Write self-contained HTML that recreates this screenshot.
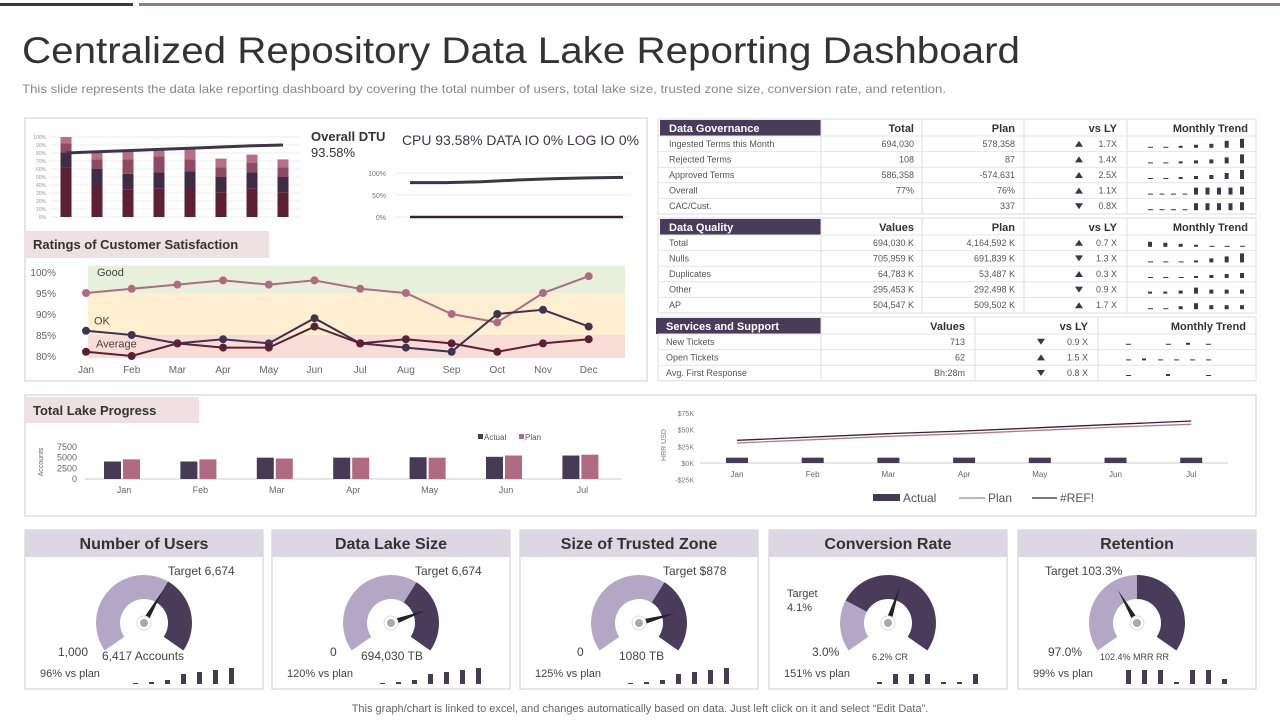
<!DOCTYPE html>
<html><head><meta charset="utf-8"><style>
html,body{margin:0;padding:0;background:#fff;}
svg{display:block;font-family:"Liberation Sans",sans-serif;}
</style></head><body>
<svg id="s" width="1280" height="720" viewBox="0 0 1280 720" xmlns="http://www.w3.org/2000/svg">
<rect x="0" y="3" width="133" height="3" fill="#3d3548"/>
<rect x="139" y="3" width="1141" height="3" fill="#a07488"/>
<text x="22" y="63" font-size="37" fill="#333" textLength="998" lengthAdjust="spacingAndGlyphs">Centralized Repository Data Lake Reporting Dashboard</text>
<text x="22" y="93" font-size="12" fill="#888" textLength="924" lengthAdjust="spacingAndGlyphs">This slide represents the data lake reporting dashboard  by covering  the total number of users, total lake size, trusted zone size, conversion  rate, and retention.</text>
<rect x="25" y="118" width="622" height="263" fill="none" stroke="#ccc"/>
<text x="311" y="141" font-size="13" font-weight="bold" fill="#333">Overall DTU</text>
<text x="311" y="157" font-size="13" fill="#333">93.58%</text>
<text x="402" y="145" font-size="14" fill="#3d3548" textLength="237" lengthAdjust="spacingAndGlyphs">CPU 93.58%  DATA IO 0%  LOG IO 0%</text>
<rect x="25" y="231" width="244" height="27" fill="#efe0e4"/>
<text x="33" y="249" font-size="13" font-weight="bold" fill="#333">Ratings of Customer  Satisfaction</text>
<rect x="25" y="395" width="1231" height="121" fill="none" stroke="#ccc"/>
<rect x="25" y="397" width="174" height="26" fill="#efe0e4"/>
<text x="33" y="415" font-size="13" font-weight="bold" fill="#333">Total Lake Progress</text>
<text x="640" y="712" font-size="11" fill="#666" text-anchor="middle">This graph/chart is linked to excel, and changes automatically based on data. Just left click on it and select “Edit Data”.</text>
</svg>
<script>
// ---- data ----
const stackBottom=[62,40,34,36,35,31,36,31];
const stackMid=[19,20,20,20,22,19,20,19];
const stackUpper=[11,12,18,20,15,12,12,12];
const stackTop=[8,8,10,10,13,11,10,10];
const stackLine=[80,81.5,83,84.5,86,87.5,89,90];
const dtuTop=[78,78,80,84,87,89,90];
const dtuBottom=[0,0,0,0,0,0,0];
const months=['Jan','Feb','Mar','Apr','May','Jun','Jul','Aug','Sep','Oct','Nov','Dec'];
const ratingGood=[95,96,97,98,97,98,96,95,90,88,95,99];
const ratingOk=[86,85,83,84,83,89,83,82,81,90,91,87];
const ratingAvg=[81,80,83,82,82,87,83,84,83,81,83,84];
const ratingTicks=['100%','95%','90%','85%','80%'];
const lakeMonths=['Jan','Feb','Mar','Apr','May','Jun','Jul'];
const lakeActual=[4100,4100,5000,5000,5100,5200,5500];
const lakePlan=[4600,4600,4800,5000,5000,5500,5700];
const lakeTicks=[7500,5000,2500,0];
const mrrActual=[8,8,8,8,8,8,8];
const mrrPlan=[30,35,40,44,49,54,58];
const mrrRef=[34,39,44,48,53,58,63];
const mrrTicks=[75,50,25,0,-25];

const S=document.getElementById('s');
const NS='http://www.w3.org/2000/svg';
function mk(tag,a,txt){const e=document.createElementNS(NS,tag);for(const k in a)e.setAttribute(k,a[k]);if(txt!==undefined)e.textContent=txt;S.appendChild(e);return e;}

// ---- stacked bar chart ----
{
 const y=v=>217-v*0.8, x=i=>66+i*31;
 for(let t=0;t<=10;t++){const g=mk('line',{x1:50,x2:300,y1:y(t*10),y2:y(t*10),stroke:'#eee'});
  const l=mk('text',{x:46,y:y(t*10)+2,'font-size':5,fill:'#999','text-anchor':'end'},(t*10)+'%');}
 const layers=[stackBottom,stackMid,stackUpper,stackTop],cols=['#5c1f33','#3f2c45','#8e4a62','#b56f86'];
 for(let i=0;i<8;i++){let acc=0;for(let k=0;k<4;k++){const v=layers[k][i];const r=mk('rect',{x:x(i)-5.5,y:y(acc+v),width:11,height:v*0.8,fill:cols[k]});acc+=v;}}
 const p=mk('polyline',{points:stackLine.map((v,i)=>x(i)+','+y(v)).join(' '),fill:'none',stroke:'#3d3548','stroke-width':3});
 
}
// ---- DTU line chart ----
{
 const y=v=>217-v*0.44, x=i=>410+i*(213/6);
 [[100,'100%'],[50,'50%'],[0,'0%']].forEach(([v,l])=>{const g=mk('line',{x1:395,x2:630,y1:y(v),y2:y(v),stroke:'#eee'});
  const t=mk('text',{x:386,y:y(v)+3,'font-size':7,fill:'#777','text-anchor':'end'},l);});
 const a=mk('polyline',{points:dtuTop.map((v,i)=>x(i)+','+y(v)).join(' '),fill:'none',stroke:'#3d3548','stroke-width':3});
 const b=mk('polyline',{points:dtuBottom.map((v,i)=>x(i)+','+y(v)).join(' '),fill:'none',stroke:'#3d2030','stroke-width':2.5});
}
// ---- ratings chart ----
{
 const y=v=>272+(100-v)*4.2, x=i=>86+i*45.7;
 const bands=[[101.5,95,'#e7f0da'],[95,85,'#fdefcf'],[85,79.5,'#f8ddd6']];
 bands.forEach(b=>{const r=mk('rect',{x:88,y:y(b[0]),width:537,height:y(b[1])-y(b[0]),fill:b[2]});});
 [['Good',97,100],['OK',94,88.5],['Average',96,83]].forEach(([t,xx,v])=>{const e=mk('text',{x:xx,y:y(v)+4,'font-size':11,fill:'#444'},t);});
 ratingTicks.forEach((t,i)=>{const e=mk('text',{x:56,y:y(100-i*5)+4,'font-size':10,fill:'#666','text-anchor':'end'},t);});
 months.forEach((m,i)=>{const e=mk('text',{x:x(i),y:373,'font-size':10,fill:'#666','text-anchor':'middle'},m);});
 [[ratingGood,'#b06a82'],[ratingOk,'#3f3350'],[ratingAvg,'#5c1f33']].forEach(([d,c])=>{
  const p=mk('polyline',{points:d.map((v,i)=>x(i)+','+y(v)).join(' '),fill:'none',stroke:c,'stroke-width':2});
  d.forEach((v,i)=>{const c2=mk('circle',{cx:x(i),cy:y(v),r:4,fill:c});});
 });
}
// ---- tables ----
const govRows=[['Ingested Terms  this Month','694,030','578,358',1,'1.7X'],['Rejected Terms','108','87',1,'1.4X'],['Approved Terms','586,358','-574,631',1,'2.5X'],['Overall','77%','76%',1,'1.1X'],['CAC/Cust.','','337',0,'0.8X']];
const govTrend=[[1,1,2,3,4,7,9],[1,1,2,3,4,6,9],[1,1,2,3,4,6,9],[1,1,1,1,7,7,7,7,8],[1,1,1,1,7,7,7,7,8]];
const dqRows=[['Total','694,030 K','4,164,592 K',1,'0.7 X'],['Nulls','705,959 K','691,839 K',0,'1.3 X'],['Duplicates','64,783 K','53,487 K',1,'0.3 X'],['Other','295,453 K','292,498 K',0,'0.9 X'],['AP','504,547 K','509,502 K',1,'1.7 X']];
const dqTrend=[[5,4,3,2,1,1,1],[1,1,1,2,4,6,9],[1,1,1,2,3,4,5],[2,2,3,6,4,4,4],[1,1,3,6,4,4,4]];
const ssRows=[['New Tickets','713',0,'0.9 X'],['Open Tickets','62',1,'1.5 X'],['Avg. First Response','Bh:28m',0,'0.8 X']];
const ssTrend=[[1,0,1,2,1],[1,2,1,1,1,1],[1,2,1]];
function tri(x,y,up){const p=up?`${x-4},${y+3} ${x+4},${y+3} ${x},${y-3}`:`${x-4},${y-3} ${x+4},${y-3} ${x},${y+3}`;const t=mk('polygon',{points:p,fill:'#3d3548'});}
function trend(x0,w,yb,h){const n=h.length;h.forEach((v,i)=>{if(!v)return;const r=mk('rect',{x:x0+i*w/(n-1)-2,y:yb-v,width:v>1?4:5,height:v,fill:'#3d3548'});});}
function table(top,title,heads,rows,trends,three){
 const rh=15.6,bottom=top+17+rows.length*rh;
 const box=mk('rect',{x:658,y:top,width:598,height:bottom-top,fill:'none',stroke:'#ddd'});
 const hd=mk('rect',{x:three?656:660,y:top+1,width:three?165:161,height:16,fill:'#4a3b5a'});
 const ht=mk('text',{x:three?666:669,y:top+13,'font-size':11,'font-weight':'bold',fill:'#fff'},title);
 const divs=three?[821,975,1098]:[821,922,1024,1127];
 divs.forEach(d=>{const l=mk('line',{x1:d,x2:d,y1:top,y2:bottom,stroke:'#ddd'});});
 const hx=three?[965,1088,1246]:[914,1015,1117,1248];
 heads.forEach((h,i)=>{const t=mk('text',{x:hx[i],y:top+13,'font-size':11,'font-weight':'bold',fill:'#333','text-anchor':'end'},h);});
 rows.forEach((r,j)=>{const cy=top+17+j*rh+rh/2;
  const l=mk('line',{x1:658,x2:1256,y1:top+17+j*rh,y2:top+17+j*rh,stroke:'#e4e4e4'});
  const a=mk('text',{x:three?666:669,y:cy+3,'font-size':9,fill:'#555'},r[0]);
  if(three){const b=mk('text',{x:965,y:cy+3,'font-size':9,fill:'#555','text-anchor':'end'},r[1]);
   tri(1041,cy,r[2]);const c=mk('text',{x:1088,y:cy+3,'font-size':9,fill:'#555','text-anchor':'end'},r[3]);
   trend(1128,80,cy+3,trends[j]);}
  else{const b=mk('text',{x:914,y:cy+3,'font-size':9,fill:'#555','text-anchor':'end'},r[1]);
   const p=mk('text',{x:1015,y:cy+3,'font-size':9,fill:'#555','text-anchor':'end'},r[2]);
   tri(1079,cy,r[3]);const c=mk('text',{x:1117,y:cy+3,'font-size':9,fill:'#555','text-anchor':'end'},r[4]);
   trend(1150,92,cy+4,trends[j]);}
 });
}
table(119,'Data Governance',['Total','Plan','vs LY','Monthly Trend'],govRows,govTrend,false);
table(218,'Data Quality',['Values','Plan','vs LY','Monthly Trend'],dqRows,dqTrend,false);
table(317,'Services and Support',['Values','vs LY','Monthly Trend'],ssRows,ssTrend,true);

// ---- lake progress bar chart ----
{
 const y=v=>479-v*32/7500, x=i=>124+i*76.4;
 lakeTicks.forEach(t=>{const e=mk('text',{x:77,y:y(t)+3,'font-size':9,fill:'#666','text-anchor':'end'},String(t));});
 const ax=mk('line',{x1:85,x2:622,y1:479,y2:479,stroke:'#ccc'});
 const at=mk('text',{x:43,y:462,'font-size':7,fill:'#666','text-anchor':'middle',transform:'rotate(-90 43 462)'},'Accounts');
 lakeMonths.forEach((m,i)=>{
  const a=mk('rect',{x:x(i)-20,y:y(lakeActual[i]),width:17,height:479-y(lakeActual[i]),fill:'#463a55'});
  const p=mk('rect',{x:x(i)-1,y:y(lakePlan[i]),width:17,height:479-y(lakePlan[i]),fill:'#b06a82'});
  const t=mk('text',{x:x(i),y:493,'font-size':9,fill:'#666','text-anchor':'middle'},m);});
 const l1=mk('rect',{x:478,y:434,width:5,height:5,fill:'#463a55'});
 const t1=mk('text',{x:484,y:440,'font-size':8,fill:'#555'},'Actual');
 const l2=mk('rect',{x:519,y:434,width:5,height:5,fill:'#b06a82'});
 const t2=mk('text',{x:525,y:440,'font-size':8,fill:'#555'},'Plan');
}
// ---- MRR chart ----
{
 const y=v=>463-v*(50/75), x=i=>737+i*75.7;
 mrrTicks.forEach(t=>{const e=mk('text',{x:694,y:y(t)+3,'font-size':7,fill:'#777','text-anchor':'end'},(t<0?'-$':'$')+Math.abs(t)+'K');});
 const ax=mk('line',{x1:700,x2:1228,y1:463,y2:463,stroke:'#ccc'});
 const at=mk('text',{x:666,y:445,'font-size':7,fill:'#777','text-anchor':'middle',transform:'rotate(-90 666 445)'},'HRR USD');
 lakeMonths.forEach((m,i)=>{const r=mk('rect',{x:x(i)-11,y:y(mrrActual[i]),width:22,height:463-y(mrrActual[i]),fill:'#463a55'});
  const t=mk('text',{x:x(i),y:477,'font-size':8,fill:'#666','text-anchor':'middle'},m);});
 const p=mk('polyline',{points:mrrPlan.map((v,i)=>x(i)+','+y(v)).join(' '),fill:'none',stroke:'#b07a8c','stroke-width':1.3});
 const r=mk('polyline',{points:mrrRef.map((v,i)=>x(i)+','+y(v)).join(' '),fill:'none',stroke:'#3d2030','stroke-width':1.3});
 const s1=mk('rect',{x:873,y:494,width:27,height:7,fill:'#463a55'});
 const a1=mk('text',{x:903,y:502,'font-size':12,fill:'#555'},'Actual');
 const s2=mk('line',{x1:959,x2:985,y1:498,y2:498,stroke:'#b07a8c','stroke-width':1.3});
 const a2=mk('text',{x:988,y:502,'font-size':12,fill:'#555'},'Plan');
 const s3=mk('line',{x1:1032,x2:1057,y1:498,y2:498,stroke:'#3d2030','stroke-width':1.3});
 const a3=mk('text',{x:1060,y:502,'font-size':12,fill:'#555'},'#REF!');
}
// ---- KPI cards ----
const cardTitles=['Number of Users','Data Lake Size','Size of Trusted Zone','Conversion Rate','Retention'];
const cardX=[25,272,520,769,1018];
const gaugeSplit=[30,32,32,-62,0];
const needleAngle=[30,70,75,18,-30];
const cardTarget=['Target 6,674','Target 6,674','Target $878','Target','Target 103.3%'];
const cardMin=['1,000','0','0','3.0%','97.0%'];
const cardValue=['6,417 Accounts','694,030 TB','1080 TB','6.2% CR','102.4% MRR RR'];
const cardPlan=['96% vs plan','120% vs plan','125% vs plan','151% vs plan','99% vs plan'];
const cardBars=[[1,2,4,10,12,14,16],[1,2,4,10,12,14,16],[1,2,4,10,12,14,16],[2,10,10,10,2,2,10],[14,14,14,2,14,14,5]];
function pt(cx,cy,r,a){const t=(a-90)*Math.PI/180;return [cx+r*Math.cos(t),cy+r*Math.sin(t)];}
function arc(cx,cy,R,r,a0,a1){const p1=pt(cx,cy,R,a0),p2=pt(cx,cy,R,a1),p3=pt(cx,cy,r,a1),p4=pt(cx,cy,r,a0);const lg=(a1-a0)>180?1:0;
 return `M${p1} A${R},${R} 0 ${lg} 1 ${p2} L${p3} A${r},${r} 0 ${lg} 0 ${p4} Z`;}
cardTitles.forEach((t,k)=>{
 const x0=cardX[k],cx=x0+119,cy=623;
 const f=mk('rect',{x:x0,y:530,width:238,height:159,fill:'#fff',stroke:'#ccc'});
 const h=mk('rect',{x:x0,y:530,width:238,height:27,fill:'#ddd6e3'});
 const tt=mk('text',{x:x0+119,y:549,'font-size':16,'font-weight':'bold',fill:'#333','text-anchor':'middle'},t);
 const a1=mk('path',{d:arc(cx,cy,48,24,-125,gaugeSplit[k]),fill:'#b4a7c6'});
 const a2=mk('path',{d:arc(cx,cy,48,24,gaugeSplit[k],125),fill:'#4a3b5a'});
 const np=pt(cx,cy,38,needleAngle[k]),nl=pt(cx,cy,3,needleAngle[k]-90),nr=pt(cx,cy,3,needleAngle[k]+90);
 const n=mk('polygon',{points:`${nl} ${np} ${nr}`,fill:'#222'});
 const ring=mk('circle',{cx:cx,cy:cy,r:7,fill:'#fff',stroke:'#ddd'});
 const hub=mk('circle',{cx:cx,cy:cy,r:4,fill:'#aaa'});
 const tg=k===3?mk('text',{x:x0+18,y:597,'font-size':11,fill:'#444'},'Target'):mk('text',{x:k===4?x0+27:x0+143,y:575,'font-size':12,fill:'#444'},cardTarget[k]);
 
 if(k===3){const t2=mk('text',{x:x0+18,y:611,'font-size':11,fill:'#444'},'4.1%');}
 const mn=mk('text',{x:x0+[33,58,57,43,30][k],y:656,'font-size':12,fill:'#444'},cardMin[k]);
 const small=k>=3;
 const vv=mk('text',{x:x0+[77,89,99,103,82][k],y:660,'font-size':small?9:12,fill:'#444'},cardValue[k]);
 const pl=mk('text',{x:x0+15,y:677,'font-size':11,fill:'#444'},cardPlan[k]);
 cardBars[k].forEach((v,i)=>{const r=mk('rect',{x:x0+108+i*16,y:684-v,width:5,height:v,fill:'#463a55'});});
});
</script>
</body></html>
